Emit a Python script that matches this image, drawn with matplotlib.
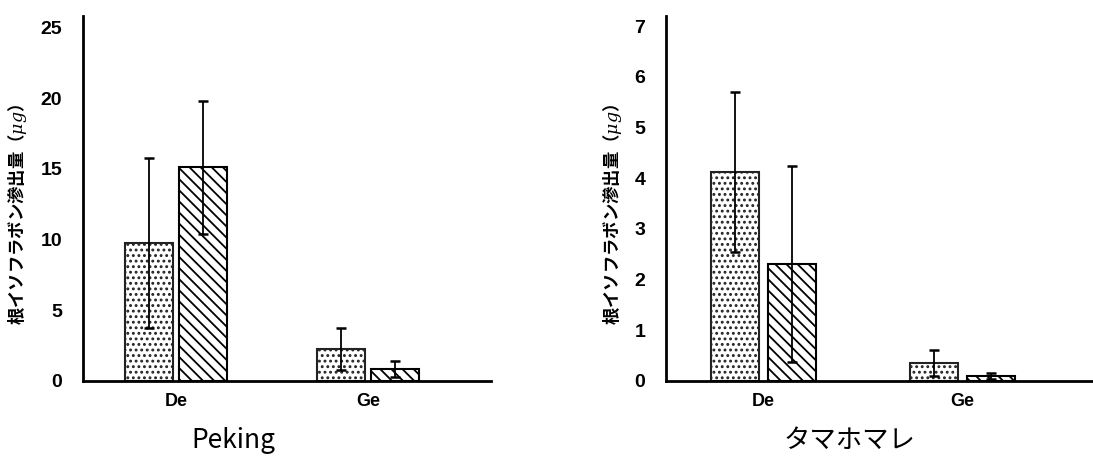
import matplotlib.pyplot as plt
import numpy as np

plt.rcParams['font.family'] = ['Liberation Sans', 'DejaVu Sans']
plt.rcParams['hatch.linewidth'] = 1.3
plt.rcParams['mathtext.fontset'] = 'dejavuserif'

groups = ['De', 'Ge']
peking_dot = [9.75, 2.25]
peking_dot_err = [6.0, 1.5]
peking_hatch = [15.1, 0.85]
peking_hatch_err = [4.7, 0.55]

tama_dot = [4.13, 0.35]
tama_dot_err = [1.58, 0.26]
tama_hatch = [2.31, 0.10]
tama_hatch_err = [1.93, 0.06]

ylabel = r'根イソフラボン滲出量（$\mu g$）'
jp_font = ['Noto Sans CJK JP', 'DejaVu Sans']


def draw_panel(ax, dot, dot_err, hatch_vals, hatch_err, ymax, yticks, width, gap, xlim, label_x):
    x = np.arange(len(groups))
    off = width / 2 + gap / 2
    ax.bar(x - off, dot, width, color='white', edgecolor='#222222', linewidth=1.5,
           hatch='...', zorder=2)
    ax.bar(x + off, hatch_vals, width, color='white', edgecolor='black', linewidth=1.5,
           hatch='\\\\\\', zorder=2)
    ax.errorbar(x - off, dot, yerr=dot_err, fmt='none', ecolor='black', elinewidth=1.3,
                capsize=3.5, capthick=1.8, zorder=3)
    ax.errorbar(x + off, hatch_vals, yerr=hatch_err, fmt='none', ecolor='black', elinewidth=1.3,
                capsize=3.5, capthick=1.8, zorder=3)
    ax.set_ylim(0, ymax)
    ax.set_xlim(*xlim)
    ax.set_yticks(yticks)
    ax.set_xticks(x)
    ax.set_xticklabels(groups, fontsize=13, fontweight='bold')
    for t in ax.get_yticklabels():
        t.set_fontsize(14)
        t.set_fontweight('bold')
    ax.tick_params(axis='both', length=0)
    ax.tick_params(axis='y', pad=15)
    ax.tick_params(axis='x', pad=9)
    for s in ['top', 'right']:
        ax.spines[s].set_visible(False)
    for s in ['left', 'bottom']:
        ax.spines[s].set_linewidth(2)
    ax.set_ylabel(ylabel, family=jp_font, fontweight='bold', fontsize=12.5)
    ax.yaxis.set_label_coords(label_x, 0.457)


fig = plt.figure(figsize=(10.93, 4.59), dpi=100)
ax1 = fig.add_axes([0.0759, 0.170, 0.3733, 0.795])
ax2 = fig.add_axes([0.6093, 0.170, 0.3907, 0.795])

draw_panel(ax1, peking_dot, peking_dot_err, peking_hatch, peking_hatch_err,
           25.8, [0, 5, 10, 15, 20, 25], 0.25, 0.03, (-0.484, 1.641), -0.132)
draw_panel(ax2, tama_dot, tama_dot_err, tama_hatch, tama_hatch_err,
           7.2, [0, 1, 2, 3, 4, 5, 6, 7], 0.24, 0.045, (-0.49, 1.656), -0.098)

fig.text(233 / 1093, 1 - 440 / 459, 'Peking', ha='center', va='center',
         fontsize=19, family=jp_font)
fig.text(850 / 1093, 1 - 440 / 459, 'タマホマレ', ha='center', va='center',
         fontsize=19, family=jp_font)

fig.savefig('out.png', dpi=100)
